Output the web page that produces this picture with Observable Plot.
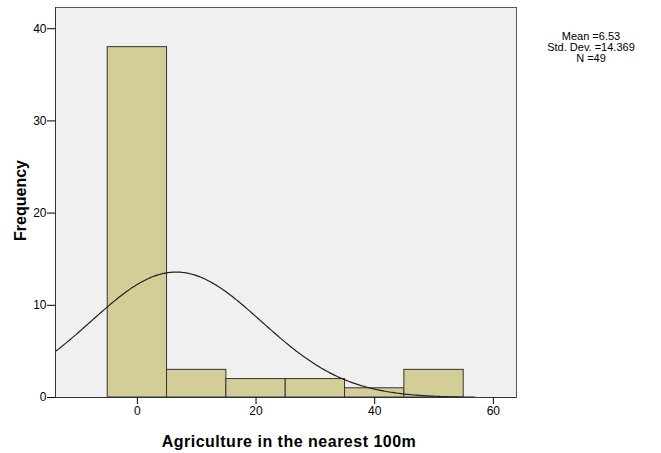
<!DOCTYPE html>
<html>
<head>
<meta charset="utf-8">
<script src="https://cdn.jsdelivr.net/npm/d3@7"></script>
<script src="https://cdn.jsdelivr.net/npm/@observablehq/plot@0.6"></script>
<style>
  body { margin: 0; background: #fff; font-family: "Liberation Sans", Arial, sans-serif; }
  #wrap { position: relative; width: 661px; height: 453px; }
  #stats { position: absolute; left: 541px; top: 31px; width: 100px; text-align: center; font-size: 11px; line-height: 11px; color: #000; }
  #stats div { height: 11px; }
  .xlabel { letter-spacing: 0.5px; }
</style>
</head>
<body>
<div id="wrap">
  <div id="chart"></div>
  <div id="stats"><div>Mean =6.53</div><div>Std. Dev. =14.369</div><div>N =49</div></div>
</div>
<script>
const binStarts = [-5, 5, 15, 25, 35, 45];
const binWidth = 10;
const frequencies = [38, 3, 2, 2, 1, 3];
const xTicks = [0, 20, 40, 60];
const yTicks = [0, 10, 20, 30, 40];
const mean = 6.53, stdDev = 14.369, n = 49;
const xDomain = [-13.8, 63.9];
const yDomain = [0, 42.3];
const curveEnd = 57;

const bins = binStarts.map((s, i) => ({x1: s, x2: s + binWidth, y: frequencies[i]}));
const curve = d3.range(xDomain[0], curveEnd + 0.01, 0.25).map(x => ({
  x, y: n * binWidth * Math.exp(-0.5 * ((x - mean) / stdDev) ** 2) / (stdDev * Math.sqrt(2 * Math.PI))
}));

const chart = Plot.plot({
  width: 661, height: 453,
  marginLeft: 55, marginRight: 145, marginTop: 7, marginBottom: 56,
  style: {fontFamily: "'Liberation Sans', Arial, sans-serif", fontSize: "12px", background: "#fff", color: "#000"},
  x: {domain: xDomain, label: null},
  y: {domain: yDomain, label: null},
  marks: [
    Plot.frame({fill: "#f0f0f0", stroke: "#555"}),
    Plot.rectY(bins, {x1: "x1", x2: "x2", y: "y", fill: "#d3ce97", stroke: "#333", strokeWidth: 1}),
    Plot.line(curve, {x: "x", y: "y", stroke: "#222", strokeWidth: 1.2, curve: "linear"}),
    Plot.ruleX([xDomain[0]], {stroke: "#333"}),
    Plot.ruleY([0], {stroke: "#333"}),
    Plot.axisX({ticks: xTicks, tickSize: 7, tickPadding: 2, label: null, fontSize: 12}),
    Plot.axisY({ticks: yTicks, tickSize: 8, tickPadding: 1, label: null, fontSize: 12}),
    Plot.text(["Agriculture in the nearest 100m"], {frameAnchor: "bottom", lineAnchor: "middle", textAnchor: "middle", dx: 3, dy: 44, fontWeight: "bold", fontSize: 16, fill: "#000", className: "xlabel"}),
    Plot.text(["Frequency"], {frameAnchor: "left", textAnchor: "middle", lineAnchor: "middle", dx: -35, dy: -2, rotate: -90, fontWeight: "bold", fontSize: 16, fill: "#000"})
  ]
});
document.getElementById("chart").appendChild(chart);
</script>
</body>
</html>
